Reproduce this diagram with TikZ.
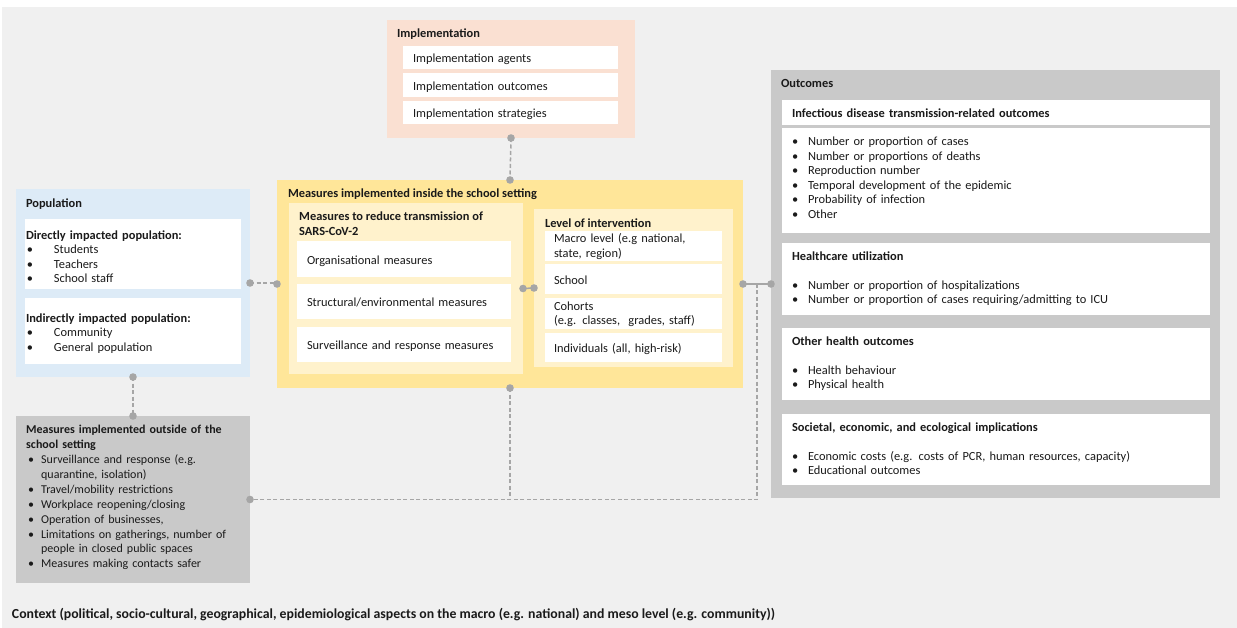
\documentclass[tikz,border=0pt]{standalone}
\usepackage{fontspec}
\setmainfont{Carlito}
\usetikzlibrary{calc}
\definecolor{bg}{HTML}{F0F0F0}
\definecolor{peach}{HTML}{FAE0D2}
\definecolor{ylw}{HTML}{FFE699}
\definecolor{lylw}{HTML}{FFF2CC}
\definecolor{lblue}{HTML}{DDEBF7}
\definecolor{gbox}{HTML}{C9C9C9}
\definecolor{conn}{HTML}{A6A6A6}
\definecolor{ink}{HTML}{1A1A1A}
% bullet: indent #1, total width #2
\newcommand\myblt[2]{\makebox[#2][l]{\hspace*{#1}•}}
\newcommand\obul{\myblt{0pt}{16pt}}
\newcommand\pbul{\myblt{1pt}{28pt}}
\newcommand\xbul{\myblt{2pt}{15pt}}
\newcommand\hstr[1]{\rule{0pt}{#1}}
\newcommand\dstr[1]{\rule[-#1]{0pt}{#1}}
\newcommand\tstr{\rule{0pt}{15.2pt}}
\begin{document}
\begin{tikzpicture}[x=1pt,y=-1pt,
  every node/.style={font=\fontsize{12.4}{14.6}\selectfont, text=ink},
  area/.style={inner sep=0pt, outer sep=0pt, anchor=north west},
  panel/.style={area, fill=white, align=left},
  title/.style={inner sep=0pt, outer sep=0pt, anchor=base west,
    font=\fontsize{12.4}{14.6}\selectfont\bfseries},
  link/.style={draw=conn, line width=1.5pt},
  dlink/.style={link, dash pattern=on 4pt off 2.5pt},
]
\fill[white] (0,0) rectangle (1237,628);
\fill[bg] (2,7) rectangle (1237,628);
\useasboundingbox (0,0) rectangle (1237,628);

% ---------------- Implementation
\node[area, fill=peach, minimum width=248pt, minimum height=118pt] (impl) at (387,20) {};
\node[title] (implT) at (397,37.5) {Implementation};
\node[panel, minimum width=215pt, minimum height=23pt, text width=195pt] (ia) at (403,46) {\tstr Implementation agents\strut};
\node[panel, minimum width=215pt, minimum height=24pt, text width=195pt] (io) at (403,73) {\tstr Implementation outcomes\strut};
\node[panel, minimum width=215pt, minimum height=23pt, text width=195pt] (is) at (403,101) {\tstr Implementation strategies\strut};

% ---------------- Population
\node[area, fill=lblue, minimum width=234pt, minimum height=188pt] (pop) at (16,189) {};
\node[title] (popT) at (26,207.5) {Population};
\node[panel, minimum width=216pt, minimum height=70pt, text width=214pt,
  font=\fontsize{12.4}{14.4}\selectfont] (popA) at (25,219)
  {\hstr{18.5pt}\textbf{Directly impacted population:}\\
   \pbul Students\\ \pbul Teachers\\ \pbul School staff\strut};
\node[panel, minimum width=216pt, minimum height=66pt, text width=214pt,
  font=\fontsize{12.4}{14.4}\selectfont] (popB) at (25,298)
  {\hstr{16pt}\textbf{Indirectly impacted population:}\\
   \pbul Community\\ \pbul General population\strut};

% ---------------- Measures inside the school setting
\node[area, fill=ylw, minimum width=466pt, minimum height=208pt] (inside) at (277,180) {};
\node[title] (insideT) at (288,197.5) {Measures implemented inside the school setting};
\node[area, fill=lylw, minimum width=234pt, minimum height=171pt] (meas) at (289,203) {};
\node[inner sep=0pt, anchor=north west, align=left,
  font=\fontsize{12.4}{14.6}\selectfont\bfseries] (measT) at (299,210.3)
  {\strut Measures to reduce transmission of\\ SARS-CoV-2};
\node[panel, minimum width=214pt, minimum height=36pt, text width=194pt] (m1) at (297,241) {\tstr Organisational measures\strut};
\node[panel, minimum width=214pt, minimum height=35pt, text width=194pt] (m2) at (297,284) {\tstr Structural/environmental measures\strut};
\node[panel, minimum width=214pt, minimum height=35pt, text width=194pt] (m3) at (297,327) {\tstr Surveillance and response measures\strut};

\node[area, fill=lylw, minimum width=199pt, minimum height=158pt] (lvl) at (534,209) {};
\node[title] (lvlT) at (545,227.5) {Level of intervention};
\node[panel, minimum width=177pt, minimum height=30pt, text width=159pt] (l1) at (545,231) {\strut Macro level (e.g national,\\ state, region)};
\node[panel, minimum width=177pt, minimum height=30pt, text width=159pt] (l2) at (545,264) {\tstr School\strut};
\node[panel, minimum width=177pt, minimum height=31pt, text width=159pt] (l3) at (545,298) {\strut Cohorts\\ (e.g. classes,\ \ grades, staff)};
\node[panel, minimum width=177pt, minimum height=29pt, text width=159pt] (l4) at (545,333) {\tstr Individuals (all, high-risk)\strut};

% ---------------- Measures outside of the school setting
\node[area, fill=gbox, minimum width=234pt, minimum height=167pt] (outside) at (16,416) {};
\node[inner sep=0pt, anchor=north west, align=left, text width=224pt,
  font=\fontsize{12}{14.9}\selectfont] (outsideT) at (26,423.1)
  {\strut\textbf{Measures implemented outside of the}\\
   \textbf{school setting}\\
   \xbul Surveillance and response (e.g.\\
   \hspace*{15pt}quarantine, isolation)\\
   \xbul Travel/mobility restrictions\\
   \xbul Workplace reopening/closing\\
   \xbul Operation of businesses,\\
   \xbul Limitations on gatherings, number of\\
   \hspace*{15pt}people in closed public spaces\\
   \xbul Measures making contacts safer};

% ---------------- Outcomes
\node[area, fill=gbox, minimum width=449pt, minimum height=428pt] (outc) at (771,70) {};
\node[title] (outcT) at (781,87.5) {Outcomes};
\node[panel, minimum width=428pt, minimum height=25pt, text width=408pt] (o1h) at (782,100)
  {\hstr{14.2pt}\textbf{Infectious disease transmission-related outcomes}\strut};
\node[panel, minimum width=428pt, minimum height=105pt, text width=408pt] (o1) at (782,128)
  {\hstr{12.2pt}\obul Number or proportion of cases\\
   \obul Number or proportions of deaths\\
   \obul Reproduction number\\
   \obul Temporal development of the epidemic\\
   \obul Probability of infection\\
   \obul Other\dstr{9pt}};
\node[panel, minimum width=428pt, minimum height=72pt, text width=408pt] (o2) at (782,243)
  {\strut\textbf{Healthcare utilization}\\[14.6pt]
   \obul Number or proportion of hospitalizations\\
   \obul Number or proportion of cases requiring/admitting to ICU\strut};
\node[panel, minimum width=428pt, minimum height=72pt, text width=408pt] (o3) at (782,328)
  {\strut\textbf{Other health outcomes}\\[14.6pt]
   \obul Health behaviour\\
   \obul Physical health\strut};
\node[panel, minimum width=428pt, minimum height=71pt, text width=408pt] (o4) at (782,414)
  {\hstr{11.2pt}\textbf{Societal, economic, and ecological implications}\\[14.6pt]
   \obul Economic costs (e.g. costs of PCR, human resources, capacity)\\
   \obul Educational outcomes\strut};

% ---------------- Context
\node[title, font=\fontsize{13.8}{16}\selectfont\bfseries] (ctx) at (12,618.5) {Context (political, socio-cultural, geographical, epidemiological aspects on the macro (e.g. national) and meso level (e.g. community))};

% ---------------- Connectors
\coordinate (rj) at ($(inside.east)!0.5!(outc.west)$);
\draw[dlink] (impl.south) -- (inside.north);
\draw[dlink] (pop.east) -- (pop.east -| inside.west);
\draw[link] (meas.east) -- (lvl.west);
\draw[link] (inside.east) -- (outc.west);
\draw[dlink] (rj) -- (rj |- outside.east) -- (outside.east);
\draw[dlink] (inside.south) -- (inside.south |- outside.east);
\draw[dlink] (pop.south) -- (outside.north);
\foreach \p in {impl.south, inside.north, pop.east, inside.west, meas.east, lvl.west,
  inside.east, outc.west, inside.south, outside.east, pop.south, outside.north}
  \fill[conn] (\p) circle (3.8pt);
\end{tikzpicture}
\end{document}
